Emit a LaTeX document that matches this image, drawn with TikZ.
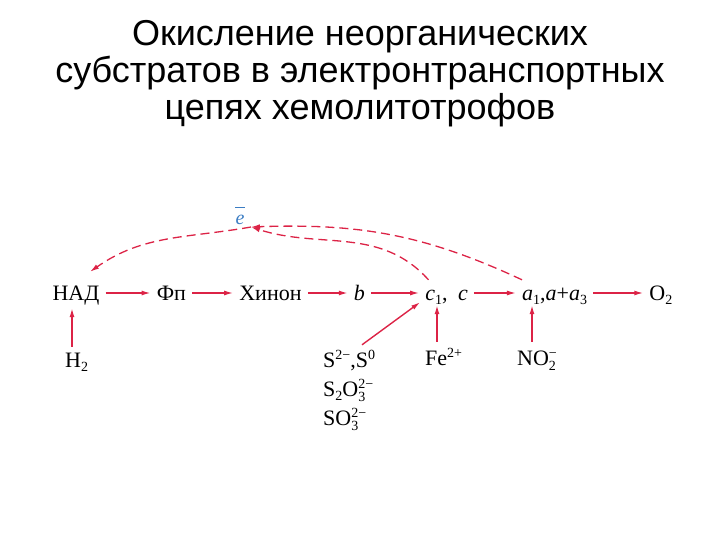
\documentclass[tikz,border=0pt]{standalone}
\usepackage{fontspec}
\setmainfont{Liberation Serif}
\newfontfamily\titlefont{Liberation Sans}
\usetikzlibrary{arrows.meta,positioning}
\definecolor{arrowred}{RGB}{220,35,70}
\definecolor{eblue}{RGB}{60,125,195}
\newcommand{\scr}{\fontsize{14}{14}\selectfont}
\newcommand{\up}[1]{\raisebox{8pt}{\scr #1}}
\newcommand{\dn}[1]{\raisebox{-4pt}{\scr #1}}
\newcommand{\updn}[2]{\rlap{\raisebox{8pt}{\scr #1}}\raisebox{-5pt}{\scr #2}}

\begin{document}
\begin{tikzpicture}
[x=1pt,y=1pt,
every node/.style={inner sep=0pt},
carrier/.style={font=\fontsize{22}{26}\selectfont, text height=16pt, text depth=2pt},
arr/.style={-{Latex[length=9pt,width=5pt]}, arrowred, line width=1.4pt},
link/.style={arr, shorten <=6pt, shorten >=6pt},
feed/.style={arr, shorten <=7pt, shorten >=3pt},
dashlink/.style={-{Latex[length=9pt,width=5pt]}, arrowred, line width=1.3pt, dash pattern=on 9pt off 5pt}]
\useasboundingbox (0,0) rectangle (720,-540);
\node[font=\titlefont\fontsize{36}{37}\selectfont, align=center] (title) at (360,-74)
 {Окисление неорганических\\субстратов в электронтранспортных\\цепях хемолитотрофов};
%% main chain
\node[carrier] (nad) at (76,-293) {НАД};
\node[carrier, right=57pt of nad] (fp) {Фп};
\node[carrier, right=53pt of fp] (quin) {Хинон};
\node[carrier, right=52pt of quin] (b) {\textit{b}};
\node[carrier, right=60pt of b] (c1) {\textit{c}\dn{1},};
\node[carrier, right=10pt of c1] (c) {\textit{c}};
\node[carrier, right=54pt of c] (a) {\textit{a}\dn{1},\textit{a}+\textit{a}\dn{3}};
\node[carrier, right=62pt of a] (o2) {O\dn{2}};
%%
\draw[link] (nad) -- (fp);
\draw[link] (fp) -- (quin);
\draw[link] (quin) -- (b);
\draw[link] (b) -- (c1);
\draw[link] (c) -- (a);
\draw[link] (a) -- (o2);
%% substrates
\node[carrier, anchor=base west] (h2) at (65,-367) {H\dn{2}};
\node[carrier, anchor=base west] (s1) at (323,-367) {S\up{2−},S\up{0}};
\node[carrier, anchor=base west] (s2) at (323,-396) {S\dn{2}O\updn{2−}{3}};
\node[carrier, anchor=base west] (s3) at (323,-425) {SO\updn{2−}{3}};
\node[carrier, anchor=base west] (fe) at (425,-365) {Fe\up{2+}};
\node[carrier, anchor=base west] (no2) at (517,-365) {NO\updn{−}{2}};
%%
\draw[arr, shorten <=4pt, shorten >=6pt] ([xshift=7pt]h2.north west) -- ([xshift=7pt]h2.north west |- nad.south);
\draw[arr] ([xshift=39pt,yshift=6pt]s1.north west) -- ([xshift=-5pt]c1.south west);
\draw[feed] ([xshift=12pt]fe.north west) -- ([xshift=12pt]fe.north west |- c1.south);
\draw[feed] ([xshift=15pt]no2.north west) -- ([xshift=15pt]no2.north west |- a.south);
%% electron return
\coordinate (etip) at (251,-227);
\node[font=\fontsize{20}{24}\selectfont, text=eblue, align=center] (elab) at (240,-216)
 {\rule{10pt}{0.9pt}\\[-8pt]\textit{e}};
\draw[dashlink] ([xshift=-8pt,yshift=4pt]c1.north) to[out=132,in=-18] (etip);
\draw[dashlink] ([yshift=4pt]a.north west) to[out=155,in=2] (etip);
\draw[dashlink] (etip) to[out=190,in=35] ([xshift=14pt,yshift=12pt]nad.north);
\end{tikzpicture}
\end{document}
